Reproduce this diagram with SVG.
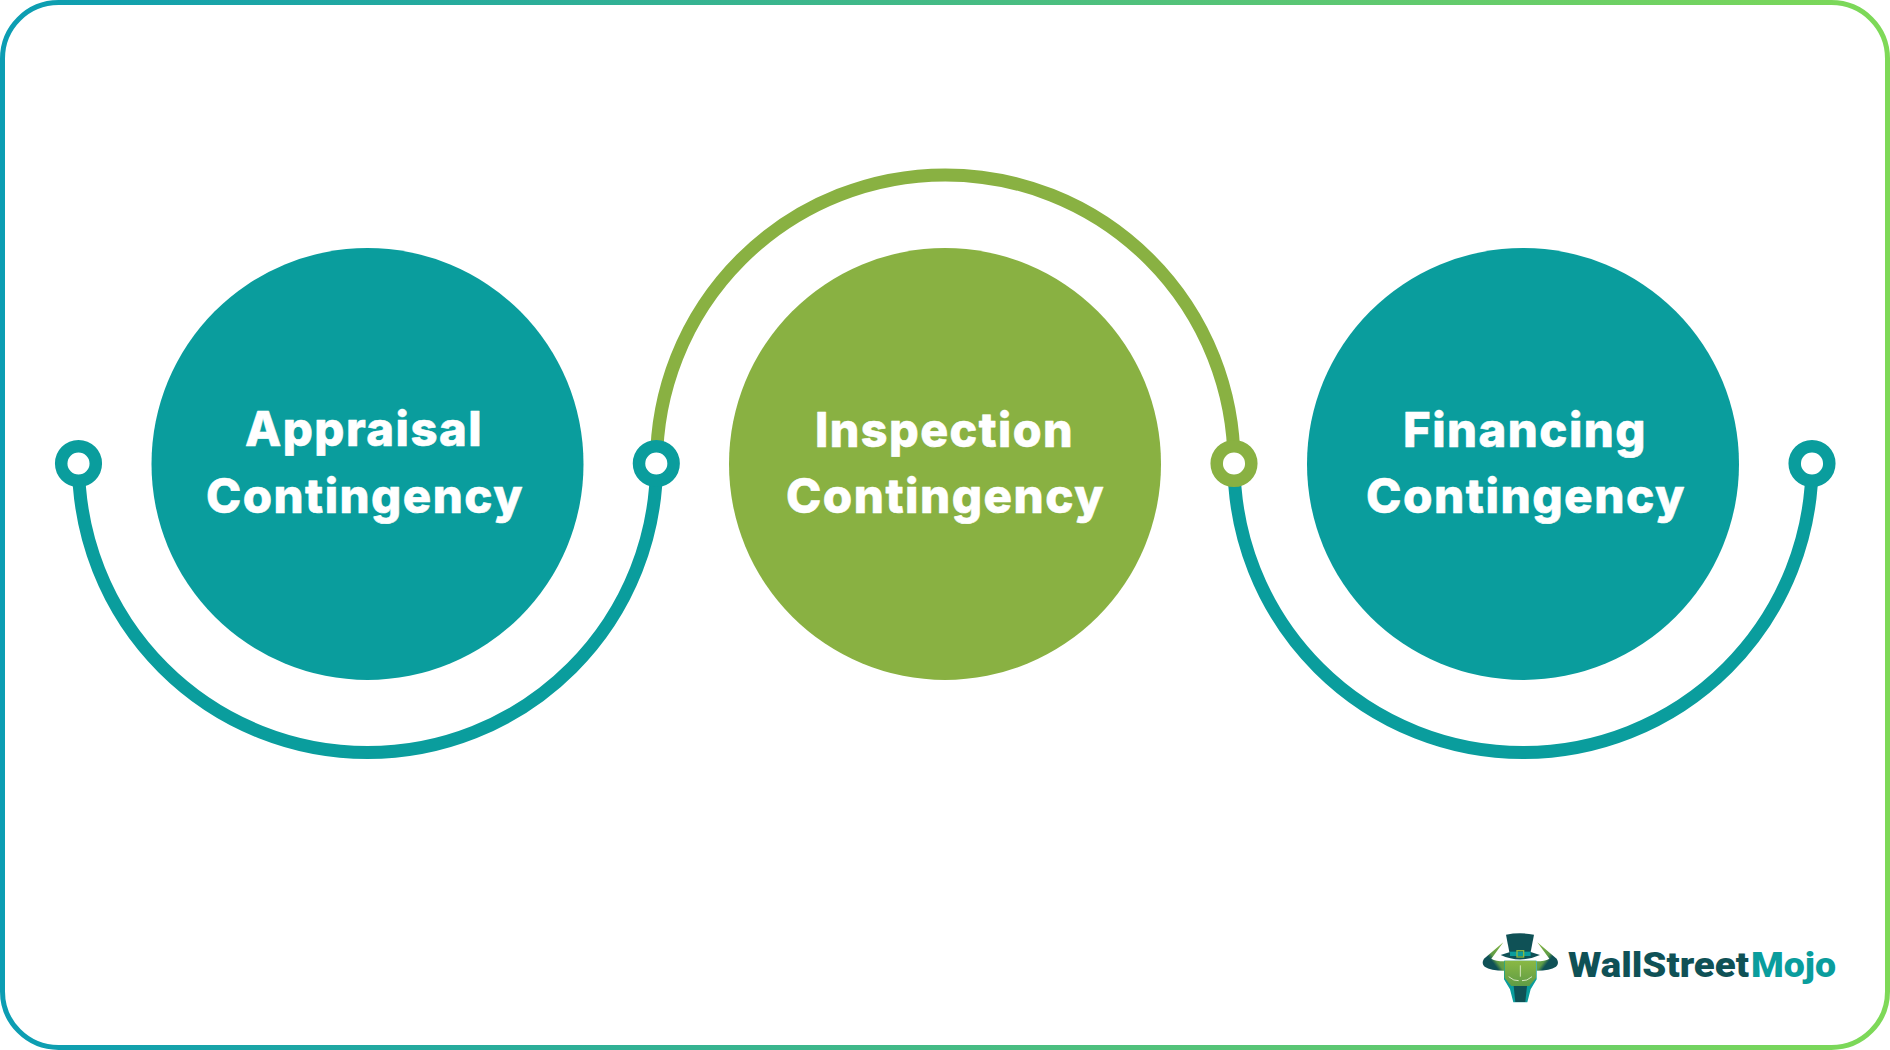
<svg xmlns="http://www.w3.org/2000/svg" width="1890" height="1050" viewBox="0 0 1890 1050">
<defs>
<linearGradient id="frameStroke" gradientUnits="userSpaceOnUse" x1="0" y1="525" x2="1890" y2="525">
<stop offset="0" stop-color="#0b9db3"/><stop offset="1" stop-color="#7ed957"/>
</linearGradient>
<linearGradient id="faceFill" x1="0" y1="0" x2="0" y2="1">
<stop offset="0" stop-color="#8ab843"/><stop offset="1" stop-color="#5f9c46"/>
</linearGradient>
<linearGradient id="hornFill" x1="1" y1="0" x2="0" y2="1">
<stop offset="0" stop-color="#8ab843"/><stop offset=".5" stop-color="#5f9c46"/><stop offset=".62" stop-color="#0f5156"/><stop offset="1" stop-color="#0f5156"/>
</linearGradient>
<linearGradient id="hornFillRight" x1="0" y1="0" x2="1" y2="1">
<stop offset="0" stop-color="#8ab843"/><stop offset=".5" stop-color="#5f9c46"/><stop offset=".62" stop-color="#0f5156"/><stop offset="1" stop-color="#0f5156"/>
</linearGradient>
</defs>
<style>
.teal{fill:#0a9d9d}
.olive{fill:#89b142}
.arc{fill:none;stroke-width:13}
.ring{fill:#fff;stroke-width:12.5}
.label{font-family:"Inter","Liberation Sans",sans-serif;font-weight:800;font-size:48px;letter-spacing:1.5px;fill:#fff;stroke:#fff;stroke-width:.6;stroke-linejoin:round}
.brand{font-family:"Roboto","Liberation Sans",sans-serif;font-weight:900;font-size:35px}
</style>
<rect width="1890" height="1050" fill="#fff"/>
<rect id="frame" x="2.500" y="2.500" width="1885" height="1045" rx="56" fill="none" stroke="url(#frameStroke)" stroke-width="5"/>

<g id="connectors">
<path class="arc" stroke="#0a9d9d" d="M78.500 463.500A289 289 0 0 0 656.500 463.500"/>
<path class="arc" stroke="#89b142" d="M656.500 463.500A288.750 288.750 0 0 1 1234 463.500"/>
<path class="arc" stroke="#0a9d9d" d="M1234 463.500A289 289 0 0 0 1812 463.500"/>
</g>

<g id="node-appraisal">
<circle class="teal" cx="367.500" cy="464" r="216"/>
<text class="label" x="245" y="446" textLength="238" lengthAdjust="spacingAndGlyphs">Appraisal</text>
<text class="label" x="206" y="512.500" textLength="318" lengthAdjust="spacingAndGlyphs">Contingency</text>
</g>
<g id="node-inspection">
<circle class="olive" cx="945" cy="464" r="216"/>
<text class="label" x="815" y="446.500" textLength="259" lengthAdjust="spacingAndGlyphs">Inspection</text>
<text class="label" x="786" y="512.500" textLength="319" lengthAdjust="spacingAndGlyphs">Contingency</text>
</g>
<g id="node-financing">
<circle class="teal" cx="1523" cy="464" r="216"/>
<text class="label" x="1403" y="446.500" textLength="244" lengthAdjust="spacingAndGlyphs">Financing</text>
<text class="label" x="1366" y="512.500" textLength="320" lengthAdjust="spacingAndGlyphs">Contingency</text>
</g>

<g id="ports">
<circle class="ring" stroke="#0a9d9d" cx="78.500" cy="463.500" r="17.300"/>
<circle class="ring" stroke="#0a9d9d" cx="656.300" cy="463.500" r="17.300"/>
<circle class="ring" stroke="#89b142" cx="1234" cy="463.500" r="17.300"/>
<circle class="ring" stroke="#0a9d9d" cx="1812" cy="463.500" r="17.300"/>
</g>

<g id="logo">
<g transform="translate(1470 920) scale(.3333)">
<path d="M100 67L42 116Q33 130 44 140Q62 152 102 152V124Q78 124 64 116Z" fill="url(#hornFill)"/>
<path d="M202 67L260 116Q269 130 258 140Q240 152 200 152V124Q224 124 238 116Z" fill="url(#hornFillRight)"/>
<path d="M102 122H200V178L182 208L172 247H130L120 208L102 178Z" fill="#0a9d9d"/>
<path d="M104 122H198V174L178 198H124L104 174Z" fill="url(#faceFill)"/>
<path d="M131 198H171L166 246H136Z" fill="#0f5156"/>
<path d="M108 44Q150 36 192 44L182 96H118Z" fill="#0f5156"/>
<path d="M92 105L120 96H182L210 105Q150 132 92 105Z" fill="#0f5156"/>
<rect x="120" y="95" width="62" height="13" fill="#0a9d9d"/>
<rect x="141" y="92" width="20" height="19" fill="none" stroke="#8ab843" stroke-width="4"/>
<path d="M151 136V170M116 170Q132 184 146 182M186 170Q170 184 156 182" fill="none" stroke="#e9f3d8" stroke-width="2.500"/>
</g>
<text class="brand" x="1568" y="977" fill="#0f5156" textLength="181" lengthAdjust="spacingAndGlyphs">WallStreet</text>
<text class="brand" x="1751" y="977" fill="#0a9d9d" textLength="85" lengthAdjust="spacingAndGlyphs">Mojo</text>
</g>
</svg>
